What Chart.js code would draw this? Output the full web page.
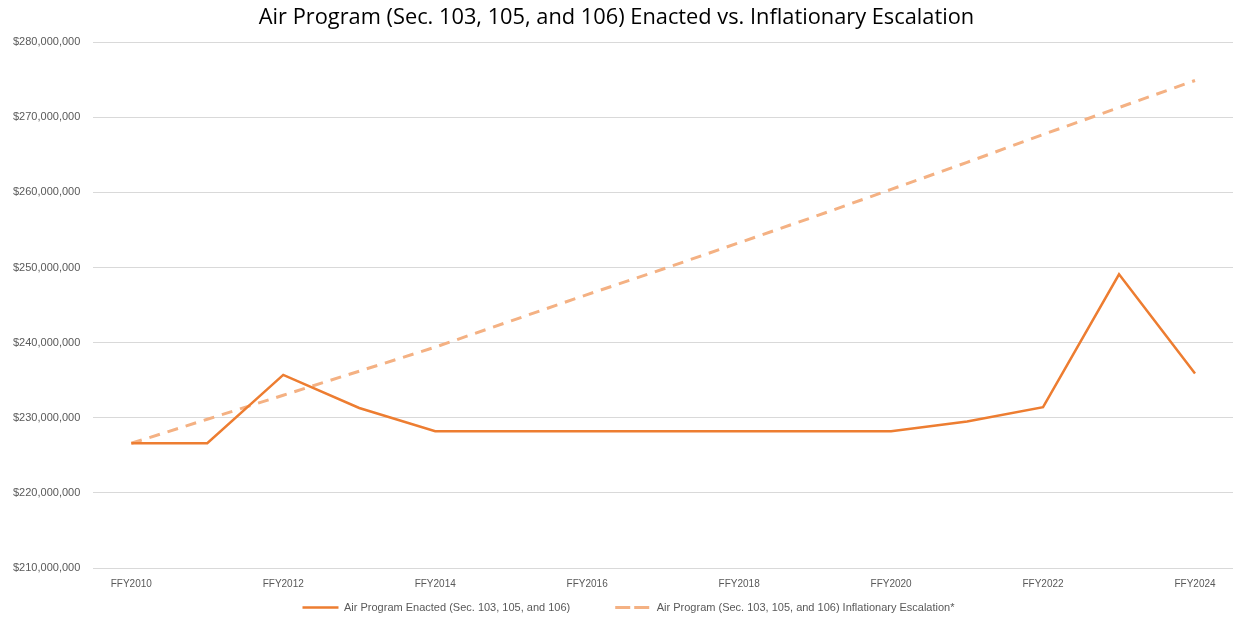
<!DOCTYPE html>
<html>
<head>
<meta charset="utf-8">
<script src="https://cdn.jsdelivr.net/npm/chart.js@4.4.1/dist/chart.umd.min.js"></script>
<style>
  html, body { margin: 0; padding: 0; background: #fff; }
  #wrap { width: 1238px; height: 622px; }
</style>
</head>
<body>
<div id="wrap"><canvas id="myChart"></canvas></div>
<script>
var years = ["FFY2010", "FFY2011", "FFY2012", "FFY2013", "FFY2014", "FFY2015", "FFY2016", "FFY2017",
    "FFY2018", "FFY2019", "FFY2020", "FFY2021", "FFY2022", "FFY2023", "FFY2024"]
var enacted = [226.6, 226.6, 235.7, 231.3, 228.2, 228.2, 228.2, 228.2,
    228.2, 228.2, 228.2, 229.5, 231.4, 249.1, 235.9].map(v => v * 1e6)
var escalation = [226.6, 229.8, 233.0, 236.2, 239.4, 242.9, 246.4, 249.8,
    253.3, 256.8, 260.4, 264.0, 267.7, 271.3, 274.9].map(v => v * 1e6)
var yMin = 210000000, yMax = 280000000, yStep = 10000000

var chartField = document.querySelector("#myChart").getContext("2d")

// legend padding also sets the gap between items, so reserve less room for
// the legend and move its box up afterwards (draw is clipped to the box)
var legendRoom = 32
var legendGap = 45
var legendNudge = 12
var legendTweak = {
    id: "legendTweak",
    beforeInit(chart) {
        var fit = chart.legend.fit
        chart.legend.fit = function () {
            fit.call(this)
            this.height = legendRoom
        }
    },
    afterLayout(chart) {
        chart.legend.top = chart.legend.bottom - legendRoom - (legendGap - 12)
        chart.legend.left += legendNudge
        chart.legend.right += legendNudge
    }
}

var myChart = new Chart(chartField, {
    type: "line",
    data: {
        labels: years,
        datasets: [{
            label: "Air Program Enacted (Sec. 103, 105, and 106)",
            data: enacted,
            borderColor: "#ED7D31",
            backgroundColor: "#ED7D31",
            borderWidth: 2.5,
            pointRadius: 0,
            tension: 0
        }, {
            label: "Air Program (Sec. 103, 105, and 106) Inflationary Escalation*",
            data: escalation,
            borderColor: "#F4B183",
            backgroundColor: "#F4B183",
            borderWidth: 3,
            borderDash: [11, 8],
            pointRadius: 0,
            tension: 0
        }]
    },
    plugins: [legendTweak],
    options: {
        responsive: true,
        maintainAspectRatio: false,
        animation: false,
        layout: { padding: { left: 0, right: 5, bottom: 0 } },
        plugins: {
            title: {
                display: true,
                text: "Air Program (Sec. 103, 105, and 106) Enacted vs. Inflationary Escalation",
                color: "#000",
                font: { family: "Open Sans", size: 21.8, weight: "normal" },
                padding: { top: 5, bottom: 11 }
            },
            legend: {
                position: "bottom",
                labels: {
                    color: "#595959",
                    font: { family: "Liberation Sans", size: 11 },
                    boxWidth: 36,
                    boxHeight: 0,
                    padding: legendGap
                }
            },
            tooltip: { enabled: false }
        },
        scales: {
            x: {
                offset: true,
                grid: { display: false, drawTicks: false },
                border: { display: false },
                afterFit: function (scale) { scale.height = 22 },
                ticks: {
                    color: "#595959",
                    font: { family: "Liberation Sans", size: 10 },
                    autoSkip: false,
                    maxRotation: 0,
                    padding: 10,
                    callback: function (v, i) { return i % 2 === 0 ? years[i] : "" }
                }
            },
            y: {
                min: yMin,
                max: yMax,
                grid: { color: "#D9D9D9", drawTicks: false },
                border: { display: false },
                ticks: {
                    stepSize: yStep,
                    color: "#595959",
                    font: { family: "Liberation Sans", size: 11 },
                    padding: 13,
                    callback: function (v) { return "$" + v.toLocaleString("en-US") }
                }
            }
        }
    }
});
</script>
</body>
</html>
